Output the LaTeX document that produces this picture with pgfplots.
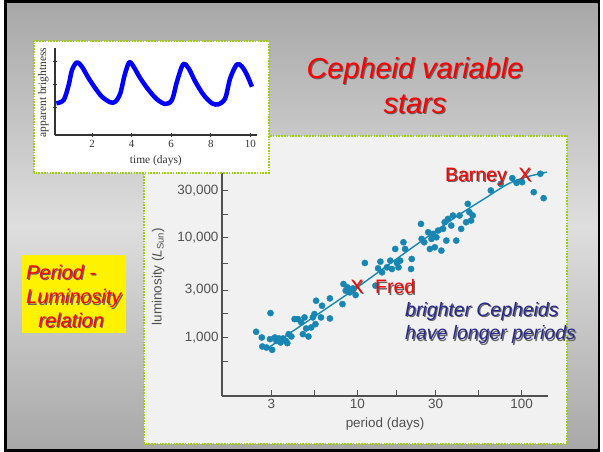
\documentclass[border=0pt]{standalone}
\usepackage{pgfplots}
\pgfplotsset{compat=1.18}
\usepackage{fontspec}
\setmainfont{Liberation Sans}
\newfontfamily\serif{Liberation Serif}
\definecolor{dotc}{RGB}{24,134,178}
\definecolor{grn}{RGB}{160,205,20}
\definecolor{panel}{RGB}{241,241,241}
\definecolor{navy}{RGB}{42,42,140}
\definecolor{axgray}{RGB}{80,80,80}
\definecolor{redt}{RGB}{255,0,0}
\definecolor{bgtop}{RGB}{168,168,168}
\definecolor{bgmid}{RGB}{222,222,222}
\newcommand{\shtext}[4]{%
  \node[#1,text=black!60] at ([xshift=1.2bp,yshift=-1.2bp]#2) {#4};
  \node[#1,text=#3] at (#2) {#4};}
\newcommand{\annfont}{\fontsize{19.5}{23}\selectfont}
\begin{document}
\begin{tikzpicture}
\begin{scope}[x=1bp,y=1bp]
\useasboundingbox (0,0) rectangle (603,452);
\fill[white] (0,0) rectangle (603,452);
\fill[black] (4,0) rectangle (600,452);
\shade[top color=bgtop,bottom color=bgtop,middle color=bgmid] (7,3.5) rectangle (597.5,448);
% main panel
\filldraw[fill=panel,draw=grn,line width=1.6bp,dash pattern=on 1.6bp off 1.2bp] (144,8) rectangle (567,316);
\end{scope}
\begin{axis}[at={(222bp,56bp)},anchor=south west,scale only axis,
  width=326bp,height=226bp,
  xmode=log,ymode=log,xmin=1.5,xmax=145,ymin=260,ymax=48000,
  axis lines=left,
  axis line style={-,draw=axgray,line width=1.2bp},
  tick align=inside,major tick length=6bp,
  tick style={axgray,line width=1bp},
  xtick={3,5.477,10,17.32,30,54.77,100},
  xticklabels={3,,10,,30,,100},
  ytick={577,1000,1732,3000,5477,10000,17320,30000},
  yticklabels={,{1,000},,{3,000},,{10,000},,{30,000}},
  xminorticks=false,yminorticks=false,
  ticklabel style={font=\fontsize{13.5}{15}\selectfont,text=axgray},
  xlabel={period (days)},
  ylabel={luminosity (\textit{L}\textsubscript{Sun})},
  label style={font=\fontsize{13.5}{15}\selectfont,text=axgray},
  xlabel style={at={(axis description cs:0.5,-0.124)},anchor=center},
  ylabel style={at={(axis description cs:-0.196,0.528)},anchor=center},
  clip=false]
\addplot[only marks,mark=*,color=dotc,mark size=3.1bp,mark options={draw=dotc,fill=dotc}] coordinates {
(2.42,1145) (2.62,1004) (2.64,815) (2.96,1763) (2.80,796) (2.94,966) (3.03,755) (3.15,1004)
(3.22,929) (3.34,981) (3.41,894) (3.53,981) (3.67,929) (3.75,881) (3.82,1084) (3.97,1027)
(4.15,1535) (4.35,1535) (4.56,1421) (4.66,1084) (4.77,1595) (4.88,1236) (5.04,1027) (5.24,1265)
(5.36,1595) (5.48,1723) (5.56,1367) (5.61,2346) (6.01,1595) (6.10,2089) (6.81,1558) (6.81,2475)
(8.12,2171) (8.24,3449) (8.51,2956) (8.71,3193) (8.99,2844) (9.42,3120) (9.77,2674)
(11.12,5608) (12.90,3319) (13.38,4956) (13.82,5783) (14.15,4517) (15.16,5072) (15.88,5918)
(16.25,4880) (17.02,7753) (17.42,5608) (17.82,5072) (18.24,5918) (19.10,9045) (19.55,7753)
(21.25,4880) (21.45,6152) (24.41,13820) (24.64,9772) (25.56,9045) (27.02,11400) (27.66,7753)
(28.30,9772) (28.96,10970) (29.64,8058) (30.33,10150) (31.05,11850) (32.51,7459) (33.27,12320)
(34.05,14370) (34.84,9401) (35.66,15520) (37.35,13300) (38.22,16770) (40.04,9401) (41.93,16770)
(42.90,12320) (45.98,14370) (47.07,21960) (48.17,18110) (49.29,14940) (50.44,16770)
(65.06,29900) (74.72,34890) (87.87,39790) (93.31,35710) (100.9,36270) (118.7,28770)
(130.2,43970) (136.3,25040)};
\addplot[dotc,line width=1.4bp,smooth] coordinates {
(2.8,770) (5,1470) (10,3200) (20,7300) (40,16300) (60,25000) (82,34500) (105,40500) (143,45700)};
\shtext{font=\annfont,anchor=center}{axis cs:9.95,3240}{redt}{X}
\shtext{font=\annfont,anchor=center}{axis cs:104.8,42800}{redt}{X}
\end{axis}
\begin{scope}[x=1bp,y=1bp]
\shtext{font=\annfont,anchor=base west,inner sep=0}{375,158}{redt}{Fred}
\shtext{font=\annfont,anchor=base west,inner sep=0}{445,270.3}{redt}{Barney}
\shtext{font=\annfont\itshape,anchor=base west,inner sep=0}{405,135.3}{navy}{brighter Cepheids}
\shtext{font=\annfont\itshape,anchor=base west,inner sep=0}{405,112}{navy}{have longer periods}
% inset
\filldraw[fill=white,draw=grn,line width=1.6bp,dash pattern=on 1.6bp off 1.2bp] (34,279) rectangle (269,411);
\end{scope}
\begin{axis}[at={(55bp,317bp)},anchor=south west,scale only axis,
  width=201.7bp,height=87bp,
  xmin=0.13,xmax=10.32,ymin=0,ymax=87,
  axis lines=left,
  axis line style={-,draw=black!80,line width=1.1bp},
  tick align=center,major tick length=4bp,
  tick style={black!80,line width=0.9bp},
  xtick={2,4,6,8,10},
  ytick={27.3,50.7,74},yticklabels={},
  /pgf/number format/assume math mode=true,
  ticklabel style={font=\serif\fontsize{11}{12}\selectfont,text=black!80},
  xlabel={time (days)},
  ylabel={apparent brightness},
  label style={font=\serif\fontsize{11.5}{12}\selectfont,text=black!80},
  xlabel style={at={(axis description cs:0.5,-0.3)},anchor=center},
  ylabel style={at={(axis description cs:-0.058,0.489)},anchor=center},
  clip=false]
\addplot[blue,line width=4.5bp,smooth,line join=round] coordinates {
(0.20,31.7) (0.57,35) (0.82,50) (0.99,65) (1.24,72.7) (1.49,68.3) (1.83,56.7) (2.17,46.7)
(2.50,38.3) (2.92,32.7) (3.18,33.3) (3.43,41.7) (3.65,60) (3.88,72.7) (4.10,68.3) (4.44,56.7)
(4.86,45) (5.28,35.7) (5.70,31) (6.04,35) (6.29,53.3) (6.60,70.7) (6.88,66.7) (7.22,53.3)
(7.64,40) (8.06,31.7) (8.39,30.7) (8.73,36.7) (8.98,56.7) (9.32,70.7) (9.58,68.3) (9.83,60)
(10.08,48.3)};
\end{axis}
\begin{scope}[x=1bp,y=1bp]
% title
\shtext{font=\fontsize{29}{33}\selectfont\itshape,anchor=base,inner sep=0}{415,373.7}{redt}{Cepheid variable}
\shtext{font=\fontsize{29}{33}\selectfont\itshape,anchor=base,inner sep=0}{415,338.7}{redt}{stars}
% yellow box
\fill[yellow] (22,119) rectangle (126,197);
\shtext{font=\fontsize{20}{23}\selectfont\itshape,anchor=base west,inner sep=0}{26,172.7}{redt}{Period -}
\shtext{font=\fontsize{20}{23}\selectfont\itshape,anchor=base west,inner sep=0}{26,148}{redt}{Luminosity}
\shtext{font=\fontsize{20}{23}\selectfont\itshape,anchor=base west,inner sep=0}{38.3,124.7}{redt}{relation}
\end{scope}
\end{tikzpicture}
\end{document}
